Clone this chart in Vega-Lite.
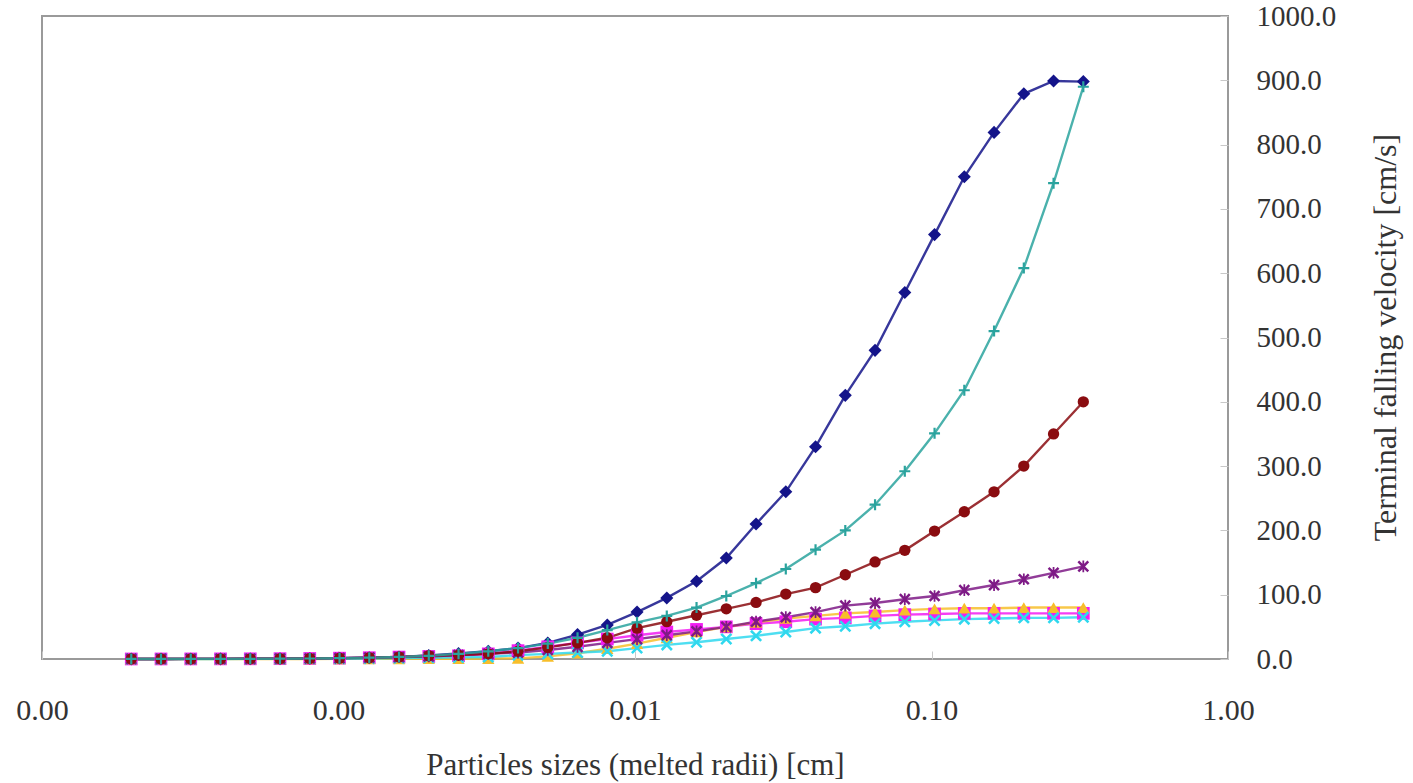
{
  "$schema": "https://vega.github.io/schema/vega-lite/v6.json",
  "width": 1186,
  "height": 643,
  "autosize": {"type": "none"},
  "padding": {"left": 42, "top": 16, "right": 185, "bottom": 124},
  "background": "white",
  "config": {
    "view": {"stroke": "#9a9a9a", "strokeWidth": 2},
    "font": "Liberation Serif"
  },
  "data": {
    "values": [
      {"r": 0.0002, "navy": 0.05, "magenta": 0.05, "gold": 0.01, "cyan": 0.02, "purple": 0.05, "red": 0.05, "teal": 0.05},
      {"r": 0.00025198, "navy": 0.08, "magenta": 0.08, "gold": 0.01, "cyan": 0.03, "purple": 0.08, "red": 0.08, "teal": 0.08},
      {"r": 0.00031748, "navy": 0.13, "magenta": 0.13, "gold": 0.02, "cyan": 0.05, "purple": 0.13, "red": 0.13, "teal": 0.13},
      {"r": 0.0004, "navy": 0.2, "magenta": 0.2, "gold": 0.03, "cyan": 0.08, "purple": 0.2, "red": 0.2, "teal": 0.2},
      {"r": 0.00050397, "navy": 0.3, "magenta": 0.3, "gold": 0.05, "cyan": 0.12, "purple": 0.3, "red": 0.3, "teal": 0.3},
      {"r": 0.00063496, "navy": 0.5, "magenta": 0.5, "gold": 0.07, "cyan": 0.2, "purple": 0.5, "red": 0.5, "teal": 0.5},
      {"r": 0.0008, "navy": 0.8, "magenta": 0.8, "gold": 0.1, "cyan": 0.3, "purple": 0.8, "red": 0.8, "teal": 0.8},
      {"r": 0.00100794, "navy": 1.3, "magenta": 1.3, "gold": 0.15, "cyan": 0.5, "purple": 1.3, "red": 1.3, "teal": 1.3},
      {"r": 0.00126992, "navy": 2.0, "magenta": 2.0, "gold": 0.2, "cyan": 0.8, "purple": 2.0, "red": 2.0, "teal": 2.0},
      {"r": 0.0016, "navy": 3.2, "magenta": 3.0, "gold": 0.3, "cyan": 1.3, "purple": 3.0, "red": 3.2, "teal": 3.2},
      {"r": 0.00201587, "navy": 5.5, "magenta": 4, "gold": 0.4, "cyan": 2, "purple": 4, "red": 5, "teal": 5},
      {"r": 0.00253984, "navy": 8.5, "magenta": 5, "gold": 0.5, "cyan": 2.5, "purple": 6, "red": 6, "teal": 8},
      {"r": 0.0032, "navy": 12, "magenta": 8, "gold": 0.7, "cyan": 3, "purple": 8, "red": 8, "teal": 12},
      {"r": 0.00403175, "navy": 17, "magenta": 13, "gold": 1, "cyan": 6, "purple": 10, "red": 12, "teal": 17},
      {"r": 0.00507968, "navy": 25, "magenta": 19, "gold": 4, "cyan": 8, "purple": 14, "red": 18, "teal": 24},
      {"r": 0.0064, "navy": 38, "magenta": 25, "gold": 9, "cyan": 10, "purple": 19, "red": 25, "teal": 33},
      {"r": 0.0080635, "navy": 53, "magenta": 31, "gold": 16, "cyan": 12, "purple": 25, "red": 33, "teal": 45},
      {"r": 0.01015937, "navy": 73, "magenta": 37, "gold": 24, "cyan": 17, "purple": 31, "red": 48, "teal": 57},
      {"r": 0.0128, "navy": 95, "magenta": 42, "gold": 33, "cyan": 22, "purple": 37, "red": 58, "teal": 67},
      {"r": 0.016127, "navy": 121, "magenta": 46, "gold": 42, "cyan": 26, "purple": 43, "red": 68, "teal": 80},
      {"r": 0.02031873, "navy": 157, "magenta": 50, "gold": 50, "cyan": 31, "purple": 50, "red": 78, "teal": 98},
      {"r": 0.0256, "navy": 210, "magenta": 55, "gold": 57, "cyan": 36, "purple": 58, "red": 88, "teal": 118},
      {"r": 0.03225398, "navy": 260, "magenta": 58, "gold": 63, "cyan": 42, "purple": 65, "red": 101, "teal": 140},
      {"r": 0.04063747, "navy": 330, "magenta": 62, "gold": 67, "cyan": 48, "purple": 73, "red": 111, "teal": 170},
      {"r": 0.0512, "navy": 410, "magenta": 64, "gold": 71, "cyan": 51, "purple": 83, "red": 131, "teal": 200},
      {"r": 0.06450796, "navy": 480, "magenta": 67, "gold": 73, "cyan": 55, "purple": 87, "red": 151, "teal": 240},
      {"r": 0.08127494, "navy": 570, "magenta": 69, "gold": 76, "cyan": 58, "purple": 93, "red": 169, "teal": 292},
      {"r": 0.1024, "navy": 660, "magenta": 70, "gold": 78, "cyan": 60, "purple": 98, "red": 199, "teal": 351},
      {"r": 0.12901592, "navy": 750, "magenta": 71, "gold": 79, "cyan": 62, "purple": 107, "red": 229, "teal": 418},
      {"r": 0.16254988, "navy": 819, "magenta": 71, "gold": 79, "cyan": 63, "purple": 115, "red": 260, "teal": 510},
      {"r": 0.2048, "navy": 879, "magenta": 71, "gold": 80, "cyan": 64, "purple": 124, "red": 300, "teal": 608},
      {"r": 0.25803184, "navy": 899, "magenta": 71, "gold": 80, "cyan": 64, "purple": 134, "red": 350, "teal": 740},
      {"r": 0.32509976, "navy": 898, "magenta": 71, "gold": 80, "cyan": 65, "purple": 144, "red": 400, "teal": 890}
    ]
  },
  "transform": [
    {"fold": ["navy", "magenta", "gold", "cyan", "purple", "red", "teal"], "as": ["series", "v"]}
  ],
  "encoding": {
    "x": {
      "field": "r",
      "type": "quantitative",
      "scale": {"type": "log", "domain": [0.0001, 1]},
      "axis": {
        "values": [0.0001, 0.001, 0.01, 0.1, 1],
        "format": ".2f",
        "domain": false,
        "grid": false,
        "ticks": true,
        "tickSize": -8,
        "tickColor": "#c8c8c8",
        "labelFontSize": 30,
        "labelColor": "#333333",
        "labelPadding": 44,
        "labelFlush": false,
        "labelOverlap": false,
        "labelBaseline": "top",
        "title": "Particles sizes (melted radii) [cm]",
        "titleFontSize": 31,
        "titleFontWeight": "normal",
        "titleColor": "#333333",
        "titleX": 593,
        "titleY": 106,
        "titleAlign": "center",
        "titleBaseline": "middle"
      }
    },
    "y": {
      "field": "v",
      "type": "quantitative",
      "scale": {"domain": [0, 1000]},
      "axis": {
        "orient": "right",
        "values": [0, 100, 200, 300, 400, 500, 600, 700, 800, 900, 1000],
        "format": ".1f",
        "domain": false,
        "grid": false,
        "ticks": true,
        "tickSize": -8,
        "tickColor": "#c8c8c8",
        "labelFontSize": 29,
        "labelColor": "#333333",
        "labelPadding": 36,
        "labelAlign": "left",
        "labelBaseline": "middle",
        "labelOverlap": false,
        "title": "Terminal falling velocity [cm/s]",
        "titleFontSize": 32,
        "titleFontWeight": "normal",
        "titleColor": "#333333",
        "titleAngle": 270,
        "titleX": 157,
        "titleY": 321,
        "titleAlign": "center",
        "titleBaseline": "middle"
      }
    },
    "color": {
      "field": "series",
      "type": "nominal",
      "scale": {
        "domain": ["navy", "magenta", "gold", "cyan", "purple", "red", "teal"],
        "range": ["#14148a", "#f21cf2", "#f7be2a", "#2fd8ee", "#7e1a86", "#8a0c10", "#2aa39e"]
      },
      "legend": null
    }
  },
  "layer": [
    {"mark": {"type": "line", "strokeWidth": 2.4, "opacity": 0.85}},
    {
      "mark": {"type": "point", "filled": true, "opacity": 1},
      "encoding": {
        "shape": {
          "field": "series",
          "type": "nominal",
          "scale": {
            "domain": ["navy", "magenta", "gold", "cyan", "purple", "red", "teal"],
            "range": [
              "diamond",
              "square",
              "triangle-up",
              "M-1,-0.7L-0.7,-1L0,-0.3L0.7,-1L1,-0.7L0.3,0L1,0.7L0.7,1L0,0.3L-0.7,1L-1,0.7L-0.3,0Z",
              "M-1,-0.7L-0.7,-1L0,-0.3L0.7,-1L1,-0.7L0.3,0L1,0.7L0.7,1L0,0.3L-0.7,1L-1,0.7L-0.3,0ZM-0.15,-1L0.15,-1L0.15,1L-0.15,1Z",
              "circle",
              "M-1,-0.2L-0.2,-0.2L-0.2,-1L0.2,-1L0.2,-0.2L1,-0.2L1,0.2L0.2,0.2L0.2,1L-0.2,1L-0.2,0.2L-1,0.2Z"
            ]
          },
          "legend": null
        },
        "size": {
          "field": "series",
          "type": "nominal",
          "scale": {
            "domain": ["navy", "magenta", "gold", "cyan", "purple", "red", "teal"],
            "range": [170, 120, 170, 130, 150, 180, 90]
          },
          "legend": null
        }
      }
    }
  ]
}
